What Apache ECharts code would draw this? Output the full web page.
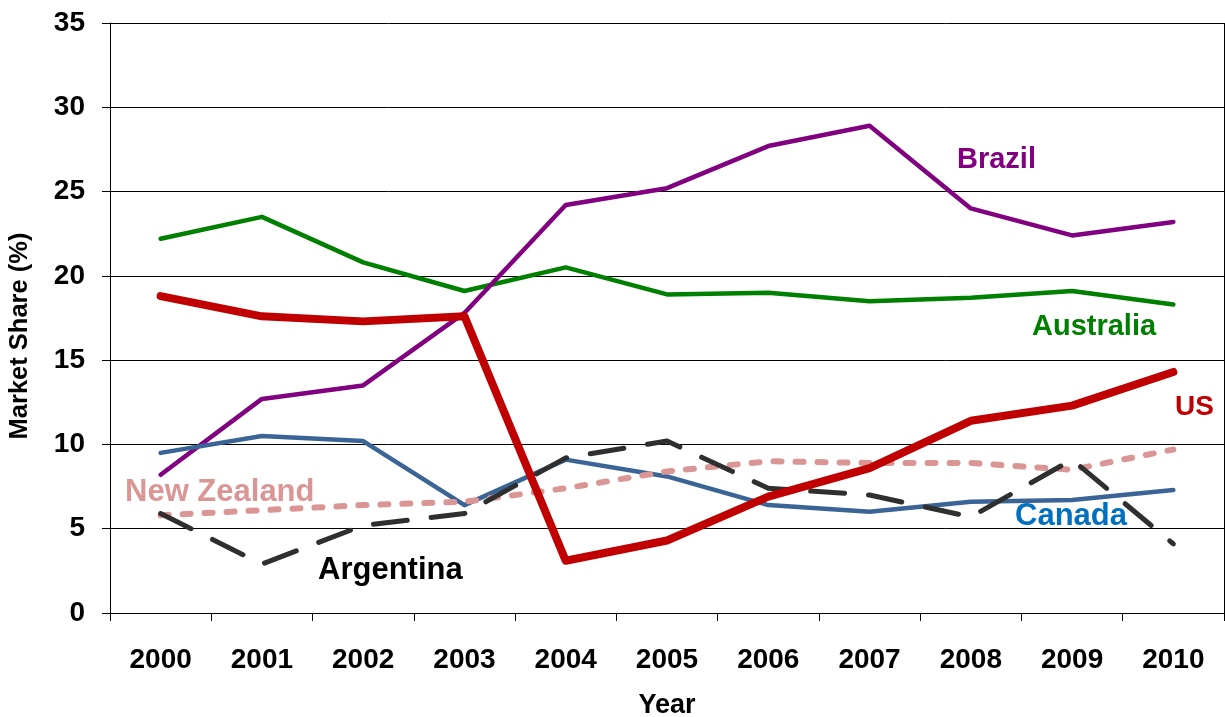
<!DOCTYPE html>
<html>
<head>
<meta charset="utf-8">
<script src="https://cdn.jsdelivr.net/npm/echarts@6/dist/echarts.min.js"></script>
<style>
  html, body { margin: 0; padding: 0; background: #fff; }
  #chart { width: 1225px; height: 717px; }
</style>
</head>
<body>
<div id="chart"></div>
<script>
const years = ['2000', '2001', '2002', '2003', '2004', '2005', '2006', '2007', '2008', '2009', '2010']
const yTicks = [0, 5, 10, 15, 20, 25, 30, 35]

const australia = [22.2, 23.5, 20.8, 19.1, 20.5, 18.9, 19.0, 18.5, 18.7, 19.1, 18.3]
const brazil = [8.2, 12.7, 13.5, 17.8, 24.2, 25.2, 27.7, 28.9, 24.0, 22.4, 23.2]
const canada = [9.5, 10.5, 10.2, 6.4, 9.1, 8.1, 6.4, 6.0, 6.6, 6.7, 7.3]
const newZealand = [5.8, 6.1, 6.4, 6.6, 7.4, 8.4, 9.0, 8.9, 8.9, 8.5, 9.7]
const argentina = [5.9, 2.9, 5.2, 5.9, 9.2, 10.2, 7.4, 7.0, 5.7, 9.1, 4.1]
const us = [18.8, 17.6, 17.3, 17.6, 3.1, 4.3, 6.9, 8.6, 11.4, 12.3, 14.3]

const chart = echarts.init(document.getElementById('chart'))

const font = 'Liberation Sans, Arial, sans-serif'

// series labels placed as plain text, like the original callouts
function label(text, x, y, color, size) {
  return {
    type: 'text',
    x: x,
    y: y,
    style: {
      text: text,
      fill: color,
      font: 'bold ' + size + 'px ' + font,
      align: 'left',
      verticalAlign: 'middle'
    }
  }
}

function line(name, data, color, width, dash) {
  return {
    name: name,
    type: 'line',
    data: data,
    symbol: 'none',
    animation: false,
    lineStyle: { color: color, width: width, type: dash || 'solid', cap: 'round', join: 'round' }
  }
}

chart.setOption({
  backgroundColor: '#fff',
  grid: { left: 110, right: 1, top: 23, bottom: 104, outerBoundsMode: 'none' },
  xAxis: {
    type: 'category',
    data: years,
    boundaryGap: true,
    name: 'Year',
    nameLocation: 'middle',
    nameGap: 79,
    nameMoveOverlap: false,
    nameTextStyle: { color: '#000', fontWeight: 'bold', fontSize: 27, fontFamily: font },
    axisLine: { lineStyle: { color: '#000', width: 1 } },
    axisTick: { show: true, inside: false, length: 8, lineStyle: { color: '#000' } },
    axisLabel: { color: '#000', fontWeight: 'bold', fontSize: 28, fontFamily: font, margin: 33 },
    splitLine: { show: false }
  },
  yAxis: {
    type: 'value',
    min: yTicks[0],
    max: yTicks[yTicks.length - 1],
    interval: 5,
    axisLine: { show: true, lineStyle: { color: '#000', width: 1 } },
    axisTick: { show: true, length: 8, lineStyle: { color: '#000' } },
    axisLabel: { color: '#000', fontWeight: 'bold', fontSize: 28, fontFamily: font, margin: 25 },
    splitLine: { show: true, lineStyle: { color: '#000', width: 1 } }
  },
  graphic: [
    { type: 'line', shape: { x1: 1224.5, y1: 23, x2: 1224.5, y2: 613 }, style: { stroke: '#000', lineWidth: 1 } },
    {
      type: 'text',
      x: 20,
      y: 336,
      rotation: Math.PI / 2,
      style: {
        text: 'Market Share (%)',
        fill: '#000',
        font: 'bold 25.5px ' + font,
        align: 'center',
        verticalAlign: 'middle'
      }
    },
    label('Brazil', 957, 160, '#800080', 29),
    label('Australia', 1032, 327, '#008000', 29),
    label('US', 1175, 407, '#C00000', 28),
    label('New Zealand', 125, 492, '#DA9694', 31),
    label('Canada', 1015, 516, '#0070C0', 31),
    label('Argentina', 318, 570, '#000', 31)
  ],
  series: [
    line('Australia', australia, '#008000', 4.5),
    line('Brazil', brazil, '#800080', 4.5),
    line('Canada', canada, '#3A6496', 4.5),
    line('New Zealand', newZealand, '#DA9694', 6, [8, 14]),
    line('Argentina', argentina, '#2F2F2F', 5, [34, 24]),
    line('US', us, '#C00000', 8)
  ]
})
</script>
</body>
</html>
